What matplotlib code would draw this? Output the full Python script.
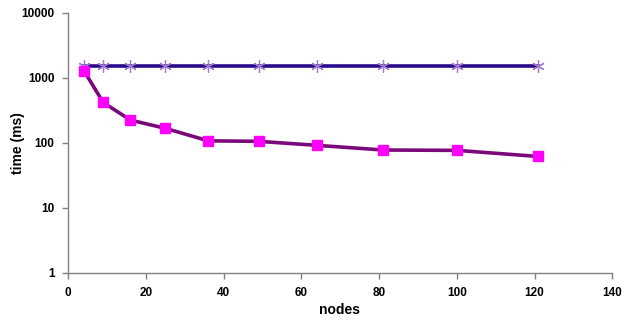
import matplotlib
matplotlib.use("Agg")
import matplotlib.pyplot as plt
from matplotlib.ticker import FixedLocator, NullLocator

nodes = [4, 9, 16, 25, 36, 49, 64, 81, 100, 121]
time_flat = [1550, 1550, 1550, 1550, 1550, 1550, 1550, 1550, 1550, 1550]
time_dist = [1300, 420, 225, 168, 108, 106, 92, 78, 77, 62]

x_ticks = [0, 20, 40, 60, 80, 100, 120, 140]
y_ticks = [1, 10, 100, 1000, 10000]
y_labels = ["1", "10", "100", "1000", "10000"]

plt.rcParams['font.family'] = ['Liberation Sans', 'DejaVu Sans']

fig = plt.figure(figsize=(6.31, 3.2), dpi=100)
ax = fig.add_axes([0.1082, 0.1469, 0.8622, 0.8125])

ax.plot(nodes, time_flat, color='#2a0a8c', lw=2.6, marker=(6, 2, 0),
        markersize=9, markeredgecolor='#a27acb', markeredgewidth=0.9, zorder=2)
ax.plot(nodes, time_dist, color='#7a0a7a', lw=2.6, marker='s',
        markersize=7, markerfacecolor='#ff00ff', markeredgecolor='#ff00ff', zorder=3)

ax.set_yscale('log')
ax.set_xlim(0, 140)
ax.set_ylim(1, 10000)
ax.xaxis.set_major_locator(FixedLocator(x_ticks))
ax.yaxis.set_major_locator(FixedLocator(y_ticks))
ax.yaxis.set_minor_locator(NullLocator())
ax.set_yticklabels(y_labels)
ax.set_xticklabels([str(v) for v in x_ticks])

for s in ['top', 'right']:
    ax.spines[s].set_visible(False)
for s in ['left', 'bottom']:
    ax.spines[s].set_color('#808080')
    ax.spines[s].set_linewidth(1.0)

ax.tick_params(axis='both', direction='out', length=4, width=1, color='#808080',
               labelsize=8.5, pad=6)
for lab in ax.get_xticklabels() + ax.get_yticklabels():
    lab.set_fontweight('bold')

fig.text(340 / 631, 1 - 310 / 320, 'nodes', fontsize=10, fontweight='bold',
         ha='center', va='center')
fig.text(18 / 631, 1 - 143 / 320, 'time (ms)', fontsize=10, fontweight='bold',
         ha='center', va='center', rotation=90)

fig.savefig('out.png', dpi=100)
